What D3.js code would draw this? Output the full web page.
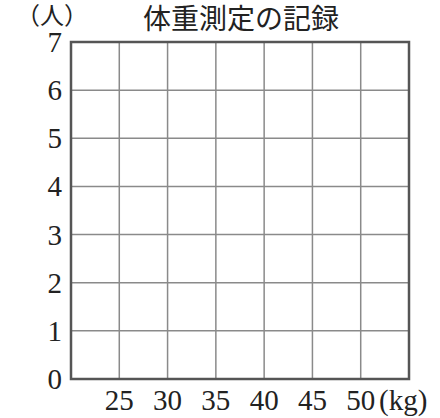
<!DOCTYPE html>
<html lang="ja">
    <head>
        <meta charset="utf-8">
        <title>体重測定の記録</title>
        <script src="https://cdn.jsdelivr.net/npm/d3@7"></script>
        <style>
            body { margin: 0; background: #fff; }
            .num { font-family: "Liberation Serif", serif; font-size: 29px; fill: #222; }
            .jp { font-family: "Noto Sans CJK JP", sans-serif; fill: #222; }
        </style>
    </head>
    <body>
        <script>
            // Data
            var title = "体重測定の記録";
            var yUnit = "（人）";
            var xUnit = "(kg)";
            var xTicks = [25, 30, 35, 40, 45, 50];
            var yTicks = [0, 1, 2, 3, 4, 5, 6, 7];
            var xDomain = [20, 55];

            var w = 440, h = 418;
            var m = {left: 71, right: 409, top: 42, bottom: 379};

            var xScale = d3.scaleLinear().domain(xDomain).range([m.left, m.right]);
            var yScale = d3.scaleLinear().domain([0, d3.max(yTicks)]).range([m.bottom, m.top]);

            var svg = d3.select("body").append("svg")
                        .attr("width", w)
                        .attr("height", h);

            // Inner grid
            svg.append("g")
               .selectAll("line")
               .data(xTicks)
               .enter()
               .append("line")
               .attr("x1", function(d) { return xScale(d); })
               .attr("x2", function(d) { return xScale(d); })
               .attr("y1", m.top)
               .attr("y2", m.bottom)
               .attr("stroke", "#8a8a8a")
               .attr("stroke-width", 1.5);

            svg.append("g")
               .selectAll("line")
               .data(yTicks.slice(1, -1))
               .enter()
               .append("line")
               .attr("x1", m.left)
               .attr("x2", m.right)
               .attr("y1", function(d) { return yScale(d); })
               .attr("y2", function(d) { return yScale(d); })
               .attr("stroke", "#8a8a8a")
               .attr("stroke-width", 1.5);

            // Border
            svg.append("rect")
               .attr("x", m.left)
               .attr("y", m.top)
               .attr("width", m.right - m.left)
               .attr("height", m.bottom - m.top)
               .attr("fill", "none")
               .attr("stroke", "#555")
               .attr("stroke-width", 2.5);

            // Y labels
            svg.append("g")
               .selectAll("text")
               .data(yTicks)
               .enter()
               .append("text")
               .attr("class", "num")
               .attr("x", 62)
               .attr("y", function(d) { return yScale(d) + 10; })
               .attr("text-anchor", "end")
               .text(function(d) { return d; });

            // X labels
            svg.append("g")
               .selectAll("text")
               .data(xTicks)
               .enter()
               .append("text")
               .attr("class", "num")
               .attr("x", function(d) { return xScale(d); })
               .attr("y", 410)
               .attr("text-anchor", "middle")
               .text(function(d) { return d; });

            svg.append("text")
               .attr("class", "num")
               .attr("x", xScale(xDomain[1]) - 30)
               .attr("y", 410)
               .text(xUnit);

            // Unit and title
            svg.append("text")
               .attr("class", "jp")
               .attr("x", 52)
               .attr("y", 24)
               .attr("text-anchor", "middle")
               .attr("font-size", 24)
               .text(yUnit);

            svg.append("text")
               .attr("class", "jp")
               .attr("x", 241)
               .attr("y", 29)
               .attr("text-anchor", "middle")
               .attr("font-size", 28)
               .text(title);
        </script>
    </body>
</html>
